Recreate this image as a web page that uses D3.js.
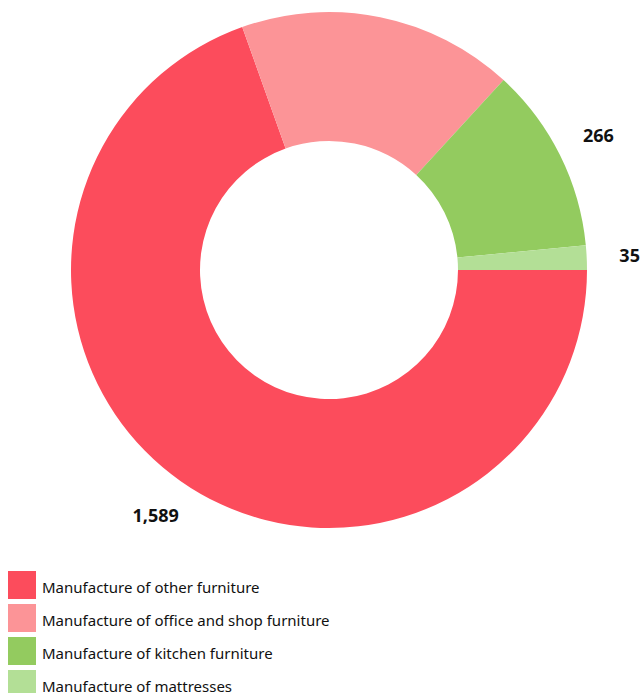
<!DOCTYPE html>
<html>
<head>
<meta charset="utf-8">
<script src="https://cdn.jsdelivr.net/npm/d3@7"></script>
<style>
  body { margin: 0; background: #fff; }
  svg { display: block; }
  .lbl { font-family: "Open Sans", sans-serif; font-weight: bold; font-size: 18px; fill: #111; }
  .leg { font-family: "Noto Sans", sans-serif; font-size: 15px; fill: #111; }
</style>
</head>
<body>
<div id="chart"></div>
<script>
var width = 641,
    height = 693;

// data
var categories = ["Manufacture of other furniture",
                  "Manufacture of office and shop furniture",
                  "Manufacture of kitchen furniture",
                  "Manufacture of mattresses"];
var values = [1589, 395, 266, 35];
var colors = ["#fc4c5c", "#fc9497", "#93cb5f", "#b3df96"];

var cx = 329, cy = 270,
    outerR = 258, innerR = 129, labelR = 301;

var svg = d3.select("#chart").append("svg")
    .attr("width", width)
    .attr("height", height);

var data = categories.map(function (c, i) {
    return { name: c, value: values[i], color: colors[i] };
});

// slices start at 3 o'clock and run clockwise
var pie = d3.pie()
    .sort(null)
    .value(function (d) { return d.value; })
    .startAngle(Math.PI / 2)
    .endAngle(Math.PI / 2 + 2 * Math.PI);

var arc = d3.arc()
    .innerRadius(innerR)
    .outerRadius(outerR);

var labelArc = d3.arc()
    .innerRadius(labelR)
    .outerRadius(labelR);

var g = svg.append("g")
    .attr("transform", "translate(" + cx + "," + cy + ")");

var arcs = pie(data);

g.selectAll("path")
    .data(arcs)
    .enter().append("path")
    .attr("d", arc)
    .attr("fill", function (d) { return d.data.color; });

//value labels (the office one sits above the top edge, as in the original)
g.selectAll("text")
    .data(arcs)
    .enter().append("text")
    .attr("class", "lbl")
    .attr("transform", function (d) {
        return "translate(" + labelArc.centroid(d) + ")";
    })
    .attr("text-anchor", "middle")
    .attr("dy", "0.35em")
    .text(function (d) { return d3.format(",")(d.data.value); });

////////////////legend
var legend = svg.append("g")
    .attr("transform", "translate(8,571)");

var row = legend.selectAll("g")
    .data(data)
    .enter().append("g")
    .attr("transform", function (d, i) { return "translate(0," + i * 33 + ")"; });

row.append("rect")
    .attr("width", 28)
    .attr("height", 28)
    .attr("fill", function (d) { return d.color; });

row.append("text")
    .attr("class", "leg")
    .attr("x", 34)
    .attr("y", 22)
    .text(function (d) { return d.name; });
</script>
</body>
</html>
